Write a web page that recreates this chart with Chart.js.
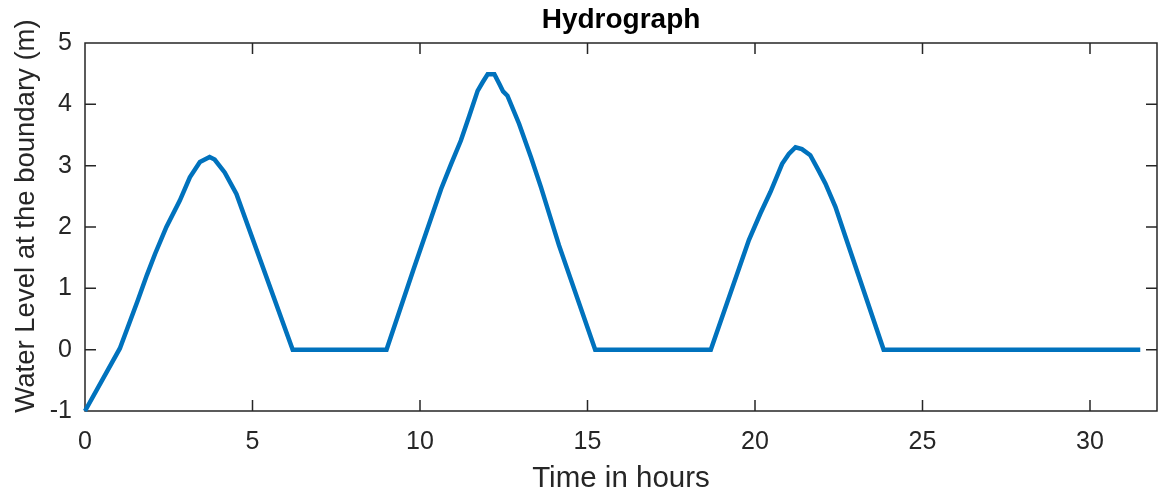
<!DOCTYPE html>
<html>
<head>
<meta charset="utf-8">
<script src="https://cdn.jsdelivr.net/npm/chart.js@4/dist/chart.umd.min.js"></script>
<style>
  html, body { margin: 0; padding: 0; background: #fff; }
  #wrap { width: 1158px; height: 499px; }
</style>
</head>
<body>
<div id="wrap"><canvas id="c" width="1158" height="499"></canvas></div>
<script>
// Boundary water level time series (hours, metres)
const hours = [
  0, 1.04, 1.58, 1.85, 2.09, 2.43, 2.83, 3.13, 3.43, 3.72, 3.87, 4.17, 4.52, 6.2,
  7.35, 9.0,
  9.8, 10.63, 10.93, 11.22, 11.47, 11.72, 11.87, 12.02, 12.22, 12.37, 12.48, 12.61, 12.96, 13.31, 13.61, 14.15, 15.23,
  17.2, 18.68,
  19.82, 20.16, 20.46, 20.81, 21.01, 21.21, 21.40, 21.65, 21.9, 22.1, 22.4, 22.7, 23.84,
  27.0, 29.4, 31.5
];
const level = [
  -1, 0.02, 0.81, 1.22, 1.56, 2.0, 2.43, 2.81, 3.06, 3.14, 3.10, 2.89, 2.54, 0,
  0, 0,
  1.3, 2.62, 3.03, 3.41, 3.81, 4.22, 4.36, 4.49, 4.49, 4.33, 4.21, 4.14, 3.68, 3.14, 2.65, 1.70, 0,
  0, 0,
  1.79, 2.22, 2.57, 3.03, 3.19, 3.30, 3.27, 3.17, 2.92, 2.71, 2.33, 1.84, 0,
  0, 0, 0
];

const xTicks = [0, 5, 10, 15, 20, 25, 30];
const yTicks = [-1, 0, 1, 2, 3, 4, 5];
const yTitle = 'Water Level at the boundary (m)';

const FONT = '"Liberation Sans", Arial, Helvetica, sans-serif';
const AXIS_COLOR = '#262626';
const TICK_LEN = 11;

// Axes box with inward-pointing tick marks on all four sides
const boxAxes = {
  id: 'boxAxes',
  beforeDatasetsDraw(chart) {
    const { ctx, chartArea: a, scales } = chart;
    ctx.save();
    ctx.strokeStyle = AXIS_COLOR;
    ctx.lineWidth = 1.5;
    ctx.beginPath();
    ctx.rect(a.left, a.top, a.right - a.left, a.bottom - a.top);
    scales.x.ticks.forEach(t => {
      const px = scales.x.getPixelForValue(t.value);
      ctx.moveTo(px, a.bottom); ctx.lineTo(px, a.bottom - TICK_LEN);
      ctx.moveTo(px, a.top); ctx.lineTo(px, a.top + TICK_LEN);
    });
    scales.y.ticks.forEach(t => {
      const py = scales.y.getPixelForValue(t.value);
      ctx.moveTo(a.left, py); ctx.lineTo(a.left + TICK_LEN, py);
      ctx.moveTo(a.right, py); ctx.lineTo(a.right - TICK_LEN, py);
    });
    ctx.stroke();

    // vertical axis title
    ctx.fillStyle = AXIS_COLOR;
    ctx.font = '27.5px ' + FONT;
    ctx.textAlign = 'center';
    ctx.textBaseline = 'alphabetic';
    ctx.translate(33.5, (a.top + a.bottom) / 2 - 11);
    ctx.rotate(-Math.PI / 2);
    ctx.fillText(yTitle, 0, 0);
    ctx.restore();
  }
};

new Chart(document.getElementById('c'), {
  type: 'line',
  data: {
    datasets: [{
      data: hours.map((h, i) => ({ x: h, y: level[i] })),
      borderColor: '#0072BD',
      borderWidth: 4.5,
      pointRadius: 0,
      tension: 0,
      fill: false,
      clip: false
    }]
  },
  options: {
    responsive: false,
    animation: false,
    devicePixelRatio: 1,
    layout: { padding: { top: 0, right: 1, bottom: 0, left: 0 } },
    plugins: {
      legend: { display: false },
      tooltip: { enabled: false },
      title: {
        display: true,
        text: 'Hydrograph',
        fullSize: false,
        color: '#000',
        font: { family: FONT, size: 28, weight: 'bold' },
        padding: { top: 3, bottom: 6.4 }
      }
    },
    scales: {
      x: {
        type: 'linear',
        min: 0,
        max: 32,
        afterFit(s) { s.height = 88; },
        afterBuildTicks(s) { s.ticks = xTicks.map(v => ({ value: v })); },
        grid: { display: false, drawTicks: false },
        border: { display: false },
        ticks: {
          color: AXIS_COLOR,
          font: { family: FONT, size: 25 },
          padding: 16,
          maxRotation: 0
        },
        title: {
          display: true,
          text: 'Time in hours',
          color: AXIS_COLOR,
          font: { family: FONT, size: 29.5 },
          padding: { top: 0, bottom: 2.6 }
        }
      },
      y: {
        type: 'linear',
        min: -1,
        max: 5,
        afterFit(s) { s.width = 85; },
        afterBuildTicks(s) { s.ticks = yTicks.map(v => ({ value: v })); },
        grid: { display: false, drawTicks: false },
        border: { display: false },
        ticks: {
          color: AXIS_COLOR,
          font: { family: FONT, size: 25 },
          padding: 13
        }
      }
    }
  },
  plugins: [boxAxes]
});
</script>
</body>
</html>
